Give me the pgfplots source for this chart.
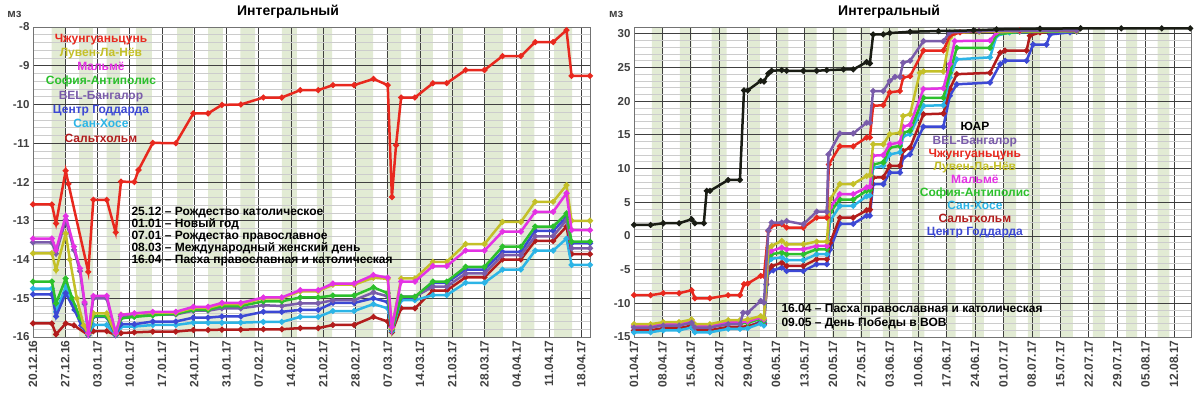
\documentclass[border=0pt]{standalone}
\usepackage{pgfplots}
\pgfplotsset{compat=1.18}
\usepackage{fontspec}
\setmainfont{Liberation Sans}
\definecolor{cR}{RGB}{232,40,30}
\definecolor{cY}{RGB}{196,192,40}
\definecolor{cM}{RGB}{228,50,228}
\definecolor{cG}{RGB}{44,192,44}
\definecolor{cP}{RGB}{122,92,170}
\definecolor{cB}{RGB}{60,72,212}
\definecolor{cC}{RGB}{44,180,230}
\definecolor{cD}{RGB}{178,28,28}
\definecolor{cK}{RGB}{25,28,20}
\definecolor{band}{RGB}{226,235,212}
\pgfplotsset{
  panel/.style={
    scale only axis, width=557pt, height=310pt, set layers, clip mode=individual,
    axis line style={draw=black!55},
    grid=both,
    major grid style={draw=black!75, line width=0.7pt},
    minor grid style={draw=black!20, line width=0.6pt},
    tick style={draw=none},
    /pgf/number format/assume math mode=true,
    yticklabel style={font=\fontsize{11.5}{12}\selectfont\bfseries, text=black!75},
    xticklabel style={rotate=90, anchor=east, font=\fontsize{12}{12}\selectfont\bfseries, text=black!75},
    title style={at={(0.458,1)}, anchor=center, yshift=9pt, font=\fontsize{14}{14}\selectfont\bfseries},
    title=Интегральный,
    every axis plot/.append style={line width=2.5pt, mark=*, mark size=1.5pt},
  },
}
\begin{document}
\begin{tikzpicture}
% ================= LEFT =================
\begin{axis}[panel, at={(33pt,63pt)}, anchor=south west,
  xmin=0, xmax=120.9, ymin=-16, ymax=-8,
  xtick={0,7,...,119},
  xticklabels={20.12.16,27.12.16,03.01.17,10.01.17,17.01.17,24.01.17,31.01.17,07.02.17,14.02.17,21.02.17,28.02.17,07.03.17,14.03.17,21.03.17,28.03.17,04.04.17,11.04.17,18.04.17},
  ytick={-16,-15,...,-8}, minor y tick num=4]
\addplot[on layer=axis background, fill=band, draw=none, mark=none, line width=0pt] coordinates {
(4.06,-16)(4.06,-8)(6.9,-8)(6.9,-16)
(10,-16)(10,-8)(13,-8)(13,-16)
(16,-16)(16,-8)(18.9,-8)(18.9,-16)
(22.4,-16)(22.4,-8)(25.8,-8)(25.8,-16)
(31.3,-16)(31.3,-8)(34.7,-8)(34.7,-16)
(38,-16)(38,-8)(41.2,-8)(41.2,-16)
(45,-16)(45,-8)(48.2,-8)(48.2,-16)
(54,-16)(54,-8)(57.3,-8)(57.3,-16)
(61.6,-16)(61.6,-8)(64.9,-8)(64.9,-16)
(70.1,-16)(70.1,-8)(73.8,-8)(73.8,-16)
(76.8,-16)(76.8,-8)(79.9,-8)(79.9,-16)
(83.1,-16)(83.1,-8)(86.8,-8)(86.8,-16)
(90.1,-16)(90.1,-8)(93.3,-8)(93.3,-16)
(98.1,-16)(98.1,-8)(102,-8)(102,-16)
(105.9,-16)(105.9,-8)(108.8,-8)(108.8,-16)
(113.1,-16)(113.1,-8)(117,-8)(117,-16)
};
% Saltholm
\addplot[cD] coordinates {(0,-15.65)(4.1,-15.65)(5.0,-15.93)(7.1,-15.65)(8.9,-15.7)(12,-15.95)(13.1,-15.85)(16.0,-15.85)(17.95,-15.95)(19.1,-15.9)(22.0,-15.88)(26.0,-15.86)(31.0,-15.86)(34.8,-15.82)(38.0,-15.82)(41.0,-15.81)(45.1,-15.81)(50.0,-15.8)(54.0,-15.8)(58.0,-15.77)(61.9,-15.77)(65.1,-15.69)(69.7,-15.69)(73.9,-15.48)(77.0,-15.6)(77.9,-15.88)(79.9,-15.26)(82.9,-15.26)(86.8,-14.8)(89.8,-14.8)(93.9,-14.46)(98.0,-14.46)(101.9,-14.0)(105.9,-14.0)(109.0,-13.52)(112.9,-13.52)(115.8,-13.15)(116.9,-13.86)(120.9,-13.86)};
% San Jose
\addplot[cC] coordinates {(0,-14.75)(4.1,-14.75)(5.0,-15.35)(7.1,-14.7)(9,-15.2)(10.5,-15.6)(12,-15.95)(13.1,-15.69)(16.0,-15.69)(17.95,-15.95)(19.1,-15.73)(22.0,-15.73)(26.0,-15.69)(31.0,-15.69)(34.8,-15.63)(38.0,-15.63)(41.0,-15.63)(45.1,-15.63)(50.0,-15.61)(54.0,-15.61)(58.0,-15.48)(61.9,-15.48)(65.1,-15.33)(69.7,-15.33)(73.9,-15.15)(77.0,-15.26)(77.9,-15.85)(79.9,-15.05)(82.9,-15.05)(86.8,-14.92)(89.8,-14.92)(93.9,-14.6)(98.0,-14.6)(101.9,-14.26)(105.9,-14.26)(109.0,-13.77)(112.9,-13.77)(115.8,-13.46)(116.9,-14.14)(120.9,-14.14)};
% Goddard
\addplot[cB] coordinates {(0,-14.9)(4.1,-14.9)(5.0,-15.47)(7.1,-14.87)(9,-15.3)(10.5,-15.7)(12,-15.95)(13.1,-15.48)(16.0,-15.48)(17.95,-15.95)(19.1,-15.67)(22.0,-15.67)(26.0,-15.6)(31.0,-15.6)(34.8,-15.5)(38.0,-15.5)(41.0,-15.47)(45.1,-15.47)(50.0,-15.35)(54.0,-15.35)(58.0,-15.3)(61.9,-15.3)(65.1,-15.12)(69.7,-15.12)(73.9,-15.0)(77.0,-15.1)(77.9,-15.82)(79.9,-14.98)(82.9,-14.98)(86.8,-14.6)(89.8,-14.6)(93.9,-14.26)(98.0,-14.26)(101.9,-13.8)(105.9,-13.8)(109.0,-13.26)(112.9,-13.26)(115.8,-12.9)(116.9,-13.58)(120.9,-13.58)};
% BEL
\addplot[cP] coordinates {(0,-13.56)(4.1,-13.56)(5.0,-13.85)(7.1,-12.98)(8.9,-13.75)(10.2,-14.3)(11.2,-15.15)(12.0,-15.92)(13.1,-15.0)(16.0,-15.0)(17.95,-15.92)(19.1,-15.47)(22.0,-15.47)(26.0,-15.42)(31.0,-15.42)(34.8,-15.32)(38.0,-15.32)(41.0,-15.26)(45.1,-15.26)(50.0,-15.18)(54.0,-15.2)(58.0,-15.13)(61.9,-15.13)(65.1,-15.05)(69.7,-15.05)(73.9,-14.85)(77.0,-14.95)(77.9,-15.8)(79.9,-14.96)(82.9,-14.96)(86.8,-14.7)(89.8,-14.7)(93.9,-14.36)(98.0,-14.36)(101.9,-13.89)(105.9,-13.89)(109.0,-13.4)(112.9,-13.4)(115.8,-12.98)(116.9,-13.71)(120.9,-13.71)};
% Sophia
\addplot[cG] coordinates {(0,-14.57)(4.1,-14.57)(5.0,-15.13)(7.1,-14.49)(8.5,-15.0)(10.2,-15.5)(12.0,-15.92)(13.1,-15.46)(16.0,-15.46)(17.95,-15.92)(19.1,-15.52)(22.0,-15.48)(26.0,-15.44)(31.0,-15.4)(34.8,-15.3)(38.0,-15.3)(41.0,-15.2)(45.1,-15.2)(50.0,-15.08)(54.0,-15.08)(58.0,-14.98)(61.9,-14.98)(65.1,-14.93)(69.7,-14.93)(73.9,-14.72)(77.0,-14.87)(77.9,-15.8)(79.9,-14.96)(82.9,-14.96)(86.8,-14.57)(89.8,-14.57)(93.9,-14.19)(98.0,-14.19)(101.9,-13.67)(105.9,-13.67)(109.0,-13.15)(112.9,-13.15)(115.8,-12.81)(116.9,-13.54)(120.9,-13.54)};
% Louvain
\addplot[cY] coordinates {(0,-13.84)(4.1,-13.84)(5.0,-14.27)(7.1,-13.33)(8.0,-14.0)(9.5,-15.0)(11,-15.7)(12,-15.92)(13.1,-15.39)(16.0,-15.39)(17.95,-15.92)(19.1,-15.42)(22.0,-15.4)(26.0,-15.37)(31.0,-15.37)(34.8,-15.25)(38.0,-15.25)(41.0,-15.15)(45.1,-15.15)(50.0,-15.0)(54.0,-15.0)(58.0,-14.82)(61.9,-14.82)(65.1,-14.65)(69.7,-14.65)(73.9,-14.47)(77.0,-14.5)(77.9,-15.78)(79.9,-14.49)(82.9,-14.49)(86.8,-14.06)(89.8,-14.06)(93.9,-13.6)(98.0,-13.6)(101.9,-13.03)(105.9,-13.03)(109.0,-12.51)(112.9,-12.51)(115.8,-12.08)(116.9,-13.0)(120.9,-13.0)};
% Malmo
\addplot[cM] coordinates {(0,-13.46)(4.1,-13.46)(5.0,-13.75)(7.1,-12.88)(8.9,-13.67)(10.2,-14.23)(11.2,-15.1)(12.0,-15.9)(13.1,-14.94)(16.0,-14.94)(17.95,-15.9)(19.1,-15.43)(22.0,-15.39)(26.0,-15.35)(31.0,-15.35)(34.8,-15.22)(38.0,-15.22)(41.0,-15.12)(45.1,-15.12)(50.0,-14.98)(54.0,-14.98)(58.0,-14.79)(61.9,-14.79)(65.1,-14.62)(69.7,-14.62)(73.9,-14.4)(77.0,-14.47)(77.9,-15.75)(79.9,-14.57)(82.9,-14.57)(86.8,-14.17)(89.8,-14.17)(93.9,-13.77)(98.0,-13.77)(101.9,-13.28)(105.9,-13.28)(109.0,-12.77)(112.9,-12.77)(115.8,-12.29)(116.9,-13.24)(120.9,-13.24)};
% Zhongguancun
\addplot[cR] coordinates {(0,-12.58)(4.1,-12.58)(5.0,-13.07)(7.1,-11.71)(7.7,-12.05)(12.0,-14.32)(13.1,-12.46)(16.0,-12.46)(17.95,-13.3)(19.1,-11.99)(22.0,-12.0)(22.9,-11.69)(26.0,-10.99)(31.0,-11.0)(34.8,-10.23)(38.0,-10.23)(41.0,-10.01)(45.1,-10.0)(50.0,-9.82)(54.0,-9.82)(58.0,-9.63)(61.9,-9.63)(65.1,-9.5)(69.7,-9.5)(73.9,-9.34)(77.0,-9.5)(77.9,-12.39)(78.8,-11.05)(79.9,-9.82)(82.9,-9.82)(86.8,-9.45)(89.8,-9.45)(93.9,-9.11)(98.0,-9.11)(101.9,-8.75)(105.9,-8.75)(109.0,-8.39)(112.9,-8.39)(115.8,-8.08)(116.9,-9.26)(120.9,-9.26)};
\node[font=\fontsize{12}{14.3}\selectfont\bfseries, align=center, anchor=center] at (rel axis cs:0.122,0.803)
 {\textcolor{cR}{Чжунгуаньцунь}\\\textcolor{cY}{Лувен-Ла-Нёв}\\\textcolor{cM}{Мальмё}\\\textcolor{cG}{София-Антиполис}\\\textcolor{cP}{BEL-Бангалор}\\\textcolor{cB}{Центр Годдарда}\\\textcolor{cC}{Сан-Хосе}\\\textcolor{cD}{Сальтхольм}};
\node[font=\fontsize{12}{12}\selectfont\bfseries, align=left, anchor=west] at (rel axis cs:0.1706,0.3226)
 {25.12 – Рождество католическое\\01.01 – Новый год\\07.01 – Рождестао православное\\08.03 – Международный женский день\\16.04 – Пасха православная и католическая};
\node[font=\fontsize{11.5}{12}\selectfont\bfseries, text=black!75] at (rel axis cs:-0.0332,1.039) {мз};
\end{axis}
% ================= RIGHT =================
\begin{axis}[panel, at={(634pt,63pt)}, anchor=south west,
  xmin=0, xmax=137.2, ymin=-15, ymax=31,
  xtick={0,7,...,133},
  xticklabels={01.04.17,08.04.17,15.04.17,22.04.17,29.04.17,06.05.17,13.05.17,20.05.17,27.05.17,03.06.17,10.06.17,17.06.17,24.06.17,01.07.17,08.07.17,15.07.17,22.07.17,29.07.17,05.08.17,12.08.17},
  ytick={-15,-10,...,30}, minor y tick num=4]
\addplot[on layer=axis background, fill=band, draw=none, mark=none, line width=0pt] coordinates {
(4.4,-15)(4.4,31)(7.2,31)(7.2,-15)
(11.3,-15)(11.3,31)(14.2,31)(14.2,-15)
(19.1,-15)(19.1,31)(22.8,31)(22.8,-15)
(28.2,-15)(28.2,31)(31,31)(31,-15)
(35.1,-15)(35.1,31)(38,31)(38,-15)
(42.1,-15)(42.1,31)(45,31)(45,-15)
(48.8,-15)(48.8,31)(52.4,31)(52.4,-15)
(55.7,-15)(55.7,31)(58.1,31)(58.1,-15)
(61.3,-15)(61.3,31)(65,31)(65,-15)
(68.5,-15)(68.5,31)(71.5,31)(71.5,-15)
(76.8,-15)(76.8,31)(79.2,31)(79.2,-15)
(83.3,-15)(83.3,31)(86.2,31)(86.2,-15)
(90.9,-15)(90.9,31)(94.1,31)(94.1,-15)
(97,-15)(97,31)(100,31)(100,-15)
(105.2,-15)(105.2,31)(108.1,31)(108.1,-15)
(113,-15)(113,31)(116,31)(116,-15)
(121.2,-15)(121.2,31)(123.9,31)(123.9,-15)
(129,-15)(129,31)(131.9,31)(131.9,-15)
};
% Goddard
\addplot[cB] coordinates {(0,-14.1)(4.1,-14.1)(7.2,-13.8)(11.1,-13.8)(14.2,-13.4)(15,-14.1)(18.7,-14.1)(23.2,-13.6)(26.1,-13.6)(28,-13.5)(31.2,-12.7)(32,-12.9)(32.6,-7.2)(33.1,-5.44)(34.3,-5.1)(36.4,-4.7)(37.6,-5.19)(41.7,-5.19)(45,-4.2)(47.5,-4.2)(48.3,-2.0)(50.7,1.8)(54,1.8)(57.3,3.0)(58.1,3.0)(58.9,7.67)(61.4,7.67)(63,9.4)(65.5,9.4)(66.3,11.6)(68,12.1)(71.3,16.2)(76.2,16.2)(77.8,20.8)(79.5,22.5)(87.7,22.75)(90.2,25.5)(91.4,26.0)(96.7,26.0)(98.3,28.4)(101.6,28.4)(102.5,29.9)(107.4,30.2)(109,30.3)};
% Saltholm
\addplot[cD] coordinates {(0,-14.0)(4.1,-14.0)(7.2,-13.7)(11.1,-13.7)(14.2,-13.3)(15,-14.0)(18.7,-14.0)(23.2,-13.5)(26.1,-13.5)(28,-13.4)(31.2,-12.9)(32,-13.1)(33.1,-4.95)(33.9,-4.5)(36.4,-3.96)(37.6,-4.45)(41.7,-4.45)(45,-3.46)(47.5,-3.46)(48.3,-1.0)(50.7,2.7)(54,2.7)(57.3,3.8)(58.1,3.9)(58.9,8.65)(61.4,8.7)(63,10.4)(65.5,10.4)(66.3,12.6)(68,13.1)(71.3,18.05)(76.2,18.15)(77.8,21.8)(79.5,24.0)(87.7,24.2)(90.2,27.2)(91.4,27.5)(96.7,27.5)(97.5,29.7)(100,30.2)(109,30.4)};
% San Jose
\addplot[cC] coordinates {(0,-14.3)(4.1,-14.3)(7.2,-14.0)(11.1,-14.0)(14.2,-13.6)(15,-14.3)(18.7,-14.3)(23.2,-13.8)(26.1,-13.8)(28,-13.7)(31.2,-13.0)(32,-13.3)(33.1,-3.7)(33.9,-3.4)(36.4,-3.2)(37.6,-3.6)(41.7,-3.6)(45,-2.72)(47.5,-2.72)(48.3,2.2)(50.7,4.45)(54,4.45)(57.3,5.9)(58.1,6.0)(58.9,10.1)(61.4,10.4)(63,12.1)(65.5,12.4)(66.3,14.8)(68,15.1)(71.3,19.3)(76.2,19.4)(77.8,23.5)(79.5,26.2)(87.7,26.5)(89.3,29.7)(92.5,30.2)(109,30.4)};
% Sophia
\addplot[cG] coordinates {(0,-13.5)(4.1,-13.5)(7.2,-13.2)(11.1,-13.2)(14.2,-12.8)(15,-13.5)(18.7,-13.5)(23.2,-13.0)(26.1,-13.0)(28,-12.9)(31.2,-12.3)(32,-12.6)(33.1,-2.97)(33.9,-2.7)(36.4,-2.47)(37.6,-2.72)(41.7,-2.72)(45,-1.98)(47.5,-1.98)(48.3,3.5)(50.7,5.4)(54,5.4)(57.3,6.7)(58.1,6.8)(58.9,10.6)(61.4,10.9)(63,13.1)(65.5,13.35)(66.3,15.3)(68,15.6)(71.3,20.5)(76.2,20.5)(77.8,24.2)(79.5,27.9)(87.7,27.9)(89.3,29.9)(95,30.3)(109,30.4)};
% Malmo
\addplot[cM] coordinates {(0,-13.35)(4.1,-13.35)(7.2,-13.05)(11.1,-13.05)(14.2,-12.6)(15,-13.35)(18.7,-13.35)(23.2,-12.8)(26.1,-12.8)(28,-12.7)(31.2,-12.1)(32,-12.4)(33.1,-2.47)(33.9,-2.2)(36.4,-1.73)(37.6,-1.98)(41.7,-1.98)(45,-1.48)(47.5,-1.48)(48.3,4.2)(50.7,6.2)(54,6.2)(57.3,7.2)(58.1,7.3)(58.9,11.9)(61.4,12.0)(63,13.6)(65.5,13.85)(66.3,16.2)(68,16.5)(71.3,21.8)(76.2,21.9)(77.8,25.5)(79,28.9)(87.7,29.0)(89.3,30.2)(95,30.4)(109,30.5)};
% Louvain
\addplot[cY] coordinates {(0,-13.1)(4.1,-13.1)(7.2,-12.8)(11.1,-12.8)(14.2,-12.4)(15,-13.1)(18.7,-13.1)(23.2,-12.5)(26.1,-12.5)(28,-12.4)(31.2,-11.9)(32,-12.2)(33.1,-1.73)(33.9,-1.48)(36.4,-0.74)(37.6,-1.24)(41.7,-1.24)(45,-0.84)(47.5,-0.84)(48.3,5.4)(50.7,7.7)(54,7.7)(57.3,8.9)(58.1,9.0)(58.9,13.6)(61.4,13.6)(63,15.1)(65.5,15.3)(66.3,17.8)(68,18.05)(70.4,24.2)(71.3,24.4)(76.2,24.4)(77.8,29.4)(79,30.1)(85,30.3)(109,30.4)};
% Zhongguancun
\addplot[cR] coordinates {(0,-8.8)(4.1,-8.8)(7.2,-8.5)(11.1,-8.5)(14.2,-8.06)(15,-9.25)(18.7,-9.25)(23.2,-8.8)(26.1,-8.8)(27.1,-7.17)(28,-7.07)(31.2,-5.93)(32,-5.93)(33.1,0.74)(33.9,1.48)(36.4,1.73)(37.6,1.24)(41.7,1.24)(45,2.72)(47.5,2.72)(48,10.6)(50.7,13.3)(54,13.3)(57.3,14.6)(58.1,14.6)(58.9,19.3)(61.4,19.4)(63,21.3)(65.5,21.5)(66.3,23.5)(68,23.7)(71.3,27.5)(76.2,27.5)(77.8,29.7)(80.3,30.2)(85,30.4)(95,30.5)(109,30.5)};
% BEL
\addplot[cP] coordinates {(0,-13.6)(4.1,-13.6)(7.2,-13.3)(11.1,-13.3)(14.2,-12.9)(15,-13.6)(18.7,-13.6)(23.2,-13.1)(26.1,-13.1)(26.9,-11.4)(28,-11.4)(31.2,-9.64)(32,-9.9)(33.1,0.84)(33.9,1.98)(36.4,1.98)(37.6,2.2)(41.7,1.73)(45,3.6)(47.5,3.6)(47.9,12.1)(50.7,15.2)(54,15.2)(57.3,16.8)(58.1,16.8)(58.9,21.5)(61.4,21.5)(63,23.0)(64.3,23.6)(65.5,23.6)(66.3,25.7)(68,26.0)(71.3,28.9)(76.2,28.9)(77.8,30.2)(85,30.4)(109,30.5)};
% South Africa
\addplot[cK] coordinates {(0,1.63)(4.1,1.63)(7.2,1.88)(11.1,1.88)(14.2,2.47)(15,1.88)(17.2,1.88)(17.9,6.68)(18.7,6.68)(23.2,8.3)(26.1,8.3)(27.1,21.6)(28,21.6)(31.2,23.0)(32,22.9)(33.1,24.1)(33.9,24.5)(36.4,24.6)(37.6,24.5)(41.7,24.5)(45,24.5)(47.5,24.6)(51.6,24.7)(54,24.7)(57.3,25.8)(58.1,25.6)(58.9,29.9)(61.4,29.9)(63,30.1)(68,30.3)(75,30.4)(83.6,30.5)(89.3,30.65)(100,30.75)(110,30.8)(120,30.8)(130,30.8)(137,30.8)};
\node[font=\fontsize{12}{13.1}\selectfont\bfseries, align=center, anchor=center] at (rel axis cs:0.612,0.505)
 {\textcolor{black}{ЮАР}\\\textcolor{cP}{BEL-Бангалор}\\\textcolor{cR}{Чжунгуаньцунь}\\\textcolor{cY}{Лувен-Ла-Нёв}\\\textcolor{cM}{Мальмё}\\\textcolor{cG}{София-Антиполис}\\\textcolor{cC}{Сан-Хосе}\\\textcolor{cD}{Сальтхольм}\\\textcolor{cB}{Центр Годдарда}};
\node[font=\fontsize{12}{14}\selectfont\bfseries, align=left, anchor=west] at (rel axis cs:0.2585,0.0677)
 {16.04 – Пасха православная и католическая\\09.05 – День Победы в ВОВ};
\node[font=\fontsize{11.5}{12}\selectfont\bfseries, text=black!75] at (rel axis cs:-0.032,1.039) {мз};
\end{axis}
\pgfresetboundingbox
\useasboundingbox (0,0) rectangle (1200pt,400pt);
\end{tikzpicture}
\end{document}
